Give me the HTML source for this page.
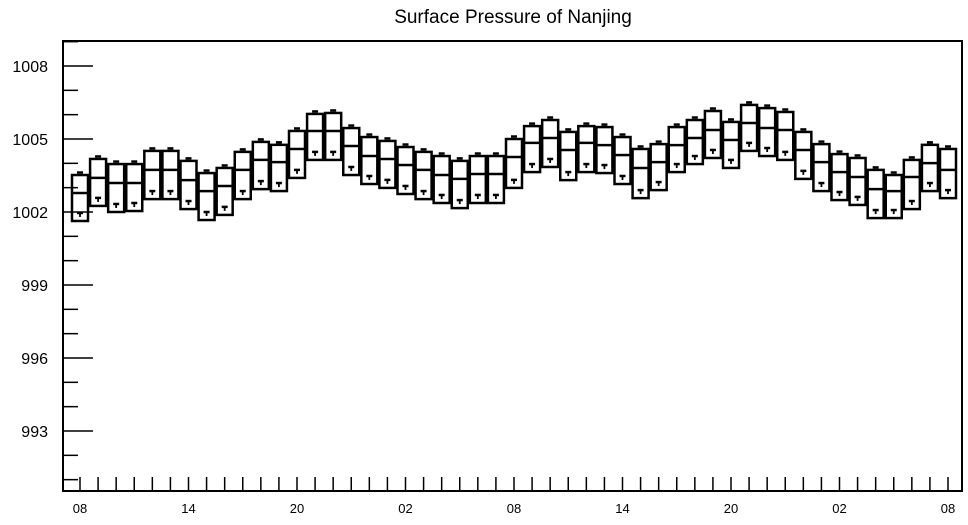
<!DOCTYPE html>
<html><head><meta charset="utf-8"><style>
body{margin:0;background:#fff;}
svg text{font-family:"Liberation Sans",sans-serif;fill:#000;}
</style></head><body>
<svg id="chart" width="968" height="520" xmlns="http://www.w3.org/2000/svg">
<text x="513" y="23" font-size="19" text-anchor="middle">Surface Pressure of Nanjing</text>
<rect x="63" y="41" width="899" height="450" fill="none" stroke="#000" stroke-width="2"/>
<g id="axes"></g><g id="boxes"></g>
</svg>
<script>
const hourLabels=["08","","","","","","14","","","","","","20","","","","","","02","","","","","","08","","","","","","14","","","","","","20","","","","","","02","","","","","","08"];
const maxVals=[1003.52,1004.18,1003.97,1003.97,1004.51,1004.51,1004.10,1003.60,1003.81,1004.47,1004.88,1004.76,1005.33,1006.03,1006.07,1005.45,1005.08,1004.92,1004.67,1004.47,1004.30,1004.10,1004.30,1004.30,1005.00,1005.53,1005.78,1005.29,1005.53,1005.49,1005.08,1004.59,1004.79,1005.49,1005.78,1006.15,1005.70,1006.40,1006.27,1006.11,1005.29,1004.79,1004.38,1004.22,1003.73,1003.52,1004.14,1004.76,1004.59];
const medVals=[1002.78,1003.40,1003.19,1003.19,1003.73,1003.73,1003.31,1002.86,1003.07,1003.73,1004.14,1004.05,1004.59,1005.33,1005.33,1004.71,1004.30,1004.18,1003.93,1003.73,1003.52,1003.36,1003.56,1003.56,1004.26,1004.84,1005.04,1004.55,1004.84,1004.75,1004.34,1003.81,1004.05,1004.75,1005.04,1005.37,1004.96,1005.66,1005.45,1005.37,1004.55,1004.05,1003.64,1003.44,1002.94,1002.86,1003.44,1004.01,1003.73];
const minVals=[1001.63,1002.25,1002.00,1002.04,1002.53,1002.53,1002.12,1001.67,1001.88,1002.53,1002.94,1002.86,1003.40,1004.14,1004.14,1003.52,1003.15,1002.99,1002.74,1002.53,1002.37,1002.16,1002.37,1002.37,1002.99,1003.64,1003.85,1003.31,1003.64,1003.60,1003.15,1002.57,1002.90,1003.64,1003.97,1004.22,1003.81,1004.51,1004.30,1004.14,1003.36,1002.86,1002.49,1002.29,1001.75,1001.75,1002.12,1002.86,1002.57];
const markVals=[1001.96,1002.58,1002.33,1002.37,1002.86,1002.86,1002.45,1002.00,1002.21,1002.86,1003.27,1003.19,1003.73,1004.47,1004.47,1003.85,1003.48,1003.32,1003.07,1002.86,1002.70,1002.49,1002.70,1002.70,1003.32,1003.97,1004.18,1003.64,1003.97,1003.93,1003.48,1002.90,1003.23,1003.97,1004.30,1004.55,1004.14,1004.84,1004.63,1004.47,1003.69,1003.19,1002.82,1002.62,1002.08,1002.08,1002.45,1003.19,1002.90];
const yTicks=[993,996,999,1002,1005,1008];

const NS="http://www.w3.org/2000/svg";
const y=v=>66+(1008-v)*24.333;
const x=i=>80+i*(868/48);
function mk(tag,attrs,parent){const e=document.createElementNS(NS,tag);for(const k in attrs)e.setAttribute(k,attrs[k]);parent.appendChild(e);return e;}
const axes=document.getElementById('axes'),boxes=document.getElementById('boxes');
for(let v=991;v<=1009;v++){
  const major=yTicks.includes(v);
  const t=mk('line',{x1:63,x2:major?93:78,y1:y(v),y2:y(v),stroke:'#000','stroke-width':1.5},axes);
  
  
}
yTicks.forEach(v=>{
  const t=mk('text',{x:48,y:y(v)+6,'font-size':16,'text-anchor':'end'},axes);
  t.textContent=v;
  
  
});
hourLabels.forEach((l,i)=>{
  const t=mk('line',{x1:x(i),x2:x(i),y1:477,y2:491,stroke:'#000','stroke-width':1.5},axes);
  
  
  if(l){
    const tx=mk('text',{x:x(i),y:513,'font-size':13,'text-anchor':'middle'},axes);
    tx.textContent=l;
    
    
  }
});
maxVals.forEach((mx,i)=>{
  const g=mk('g',{stroke:'#000','stroke-width':2.5,fill:'none'},boxes);
  
  
  const cx=x(i),w=16,top=y(mx),bot=y(minVals[i]),med=y(medVals[i]),mk2=y(markVals[i]);
  mk('rect',{x:cx-w/2,y:top,width:w,height:bot-top},g);
  mk('line',{x1:cx-w/2,x2:cx+w/2,y1:med,y2:med},g);
  mk('line',{x1:cx-3,x2:cx+3,y1:top-2.5,y2:top-2.5,'stroke-width':2.5},g);
  mk('line',{x1:cx-3,x2:cx+3,y1:mk2,y2:mk2,'stroke-width':2.5},g);
  mk('line',{x1:cx,x2:cx,y1:mk2,y2:mk2+4,'stroke-width':1.8},g);
});
</script>
</body></html>
